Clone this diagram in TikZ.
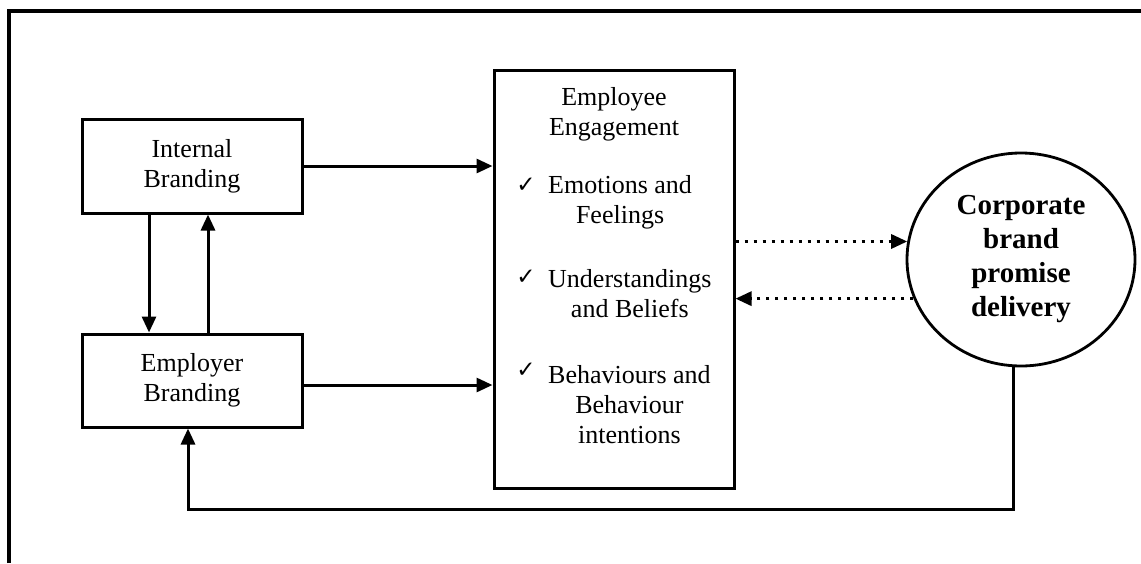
\documentclass[tikz,border=0pt]{standalone}
\usepackage{fontspec}
\setmainfont{Liberation Serif}
\newfontfamily\symfont{DejaVu Sans}
\usetikzlibrary{arrows.meta,shapes.geometric,calc}
\begin{document}
\begin{tikzpicture}[x=1pt,y=-1pt,
  box/.style={draw,line width=3pt,inner sep=0pt,align=center,font=\fontsize{26}{30}\selectfont},
  txt/.style={align=center,inner sep=0pt,font=\fontsize{26}{30}\selectfont},
  chk/.style={inner sep=0pt,font=\symfont\fontsize{23}{23}\selectfont},
  tip/.style={-{Triangle[length=16pt,width=14pt]}},
  arr/.style={line width=3pt,tip},
  dotarr/.style={line width=3pt,dash pattern=on 3pt off 6pt,tip},
  fb/.style={line width=3pt,tip},
  frame/.style={line width=3.5pt}]
\useasboundingbox (0,0) rectangle (1141,563);
% outer frame (top and left only)
\coordinate (fa) at (9,563);
\coordinate (fc) at (9,11);
\coordinate (fd) at (1141,11);
\draw[frame] (fa) -- (fc) -- (fd);
% boxes
\node[box,minimum width=220pt,minimum height=94pt] (ib) at (192,166) {Internal\\Branding};
\node[box,minimum width=220pt,minimum height=93pt] (er) at (192,380.5) {Employer\\Branding};
\node[draw,line width=3pt,inner sep=0pt,minimum width=240pt,minimum height=418pt] (emp) at (614,279) {};
\node[ellipse,draw,line width=2.8pt,minimum width=228pt,minimum height=213pt,inner sep=0pt,align=center,
      font=\bfseries\fontsize{29}{34}\selectfont] (cb) at (1021,259.5) {Corporate\\brand\\promise\\delivery};
% employee engagement texts
\node[txt] (t0) at (614,114) {Employee\\Engagement};
\node[chk] (c1) at (526,185) {✓};
\node[txt,anchor=west] (i1) at (548,202.5) {Emotions and\\Feelings};
\node[chk] (c2) at (526,277) {✓};
\node[txt,anchor=west] (i2) at (548,294) {Understandings\\and Beliefs};
\node[chk] (c3) at (526,370) {✓};
\node[txt,anchor=west] (i3) at (548,405) {Behaviours and\\Behaviour\\intentions};
% helper coordinates
\coordinate (d1) at (149,0);
\coordinate (u1) at (208,0);
\coordinate (fr) at (1013,509);
\coordinate (fl) at (188,509);
% connectors
\draw[arr] (ib.east) -- (ib.east -| emp.west);
\draw[arr] ($(er.east)+(0,4.5)$) -- ($(er.east -| emp.west)+(0,4.5)$);
\draw[arr] (ib.south -| d1) -- (er.north -| d1);
\draw[arr] (er.north -| u1) -- (ib.south -| u1);
\draw[dotarr] (emp.east |- cb.171) -- (cb.171);
\draw[dotarr] (cb.200) -- (emp.east |- cb.200);
\draw[fb] (cb.south -| fr) -- (fr) -- (fl) -- (er.south -| fl);
\end{tikzpicture}
\end{document}
